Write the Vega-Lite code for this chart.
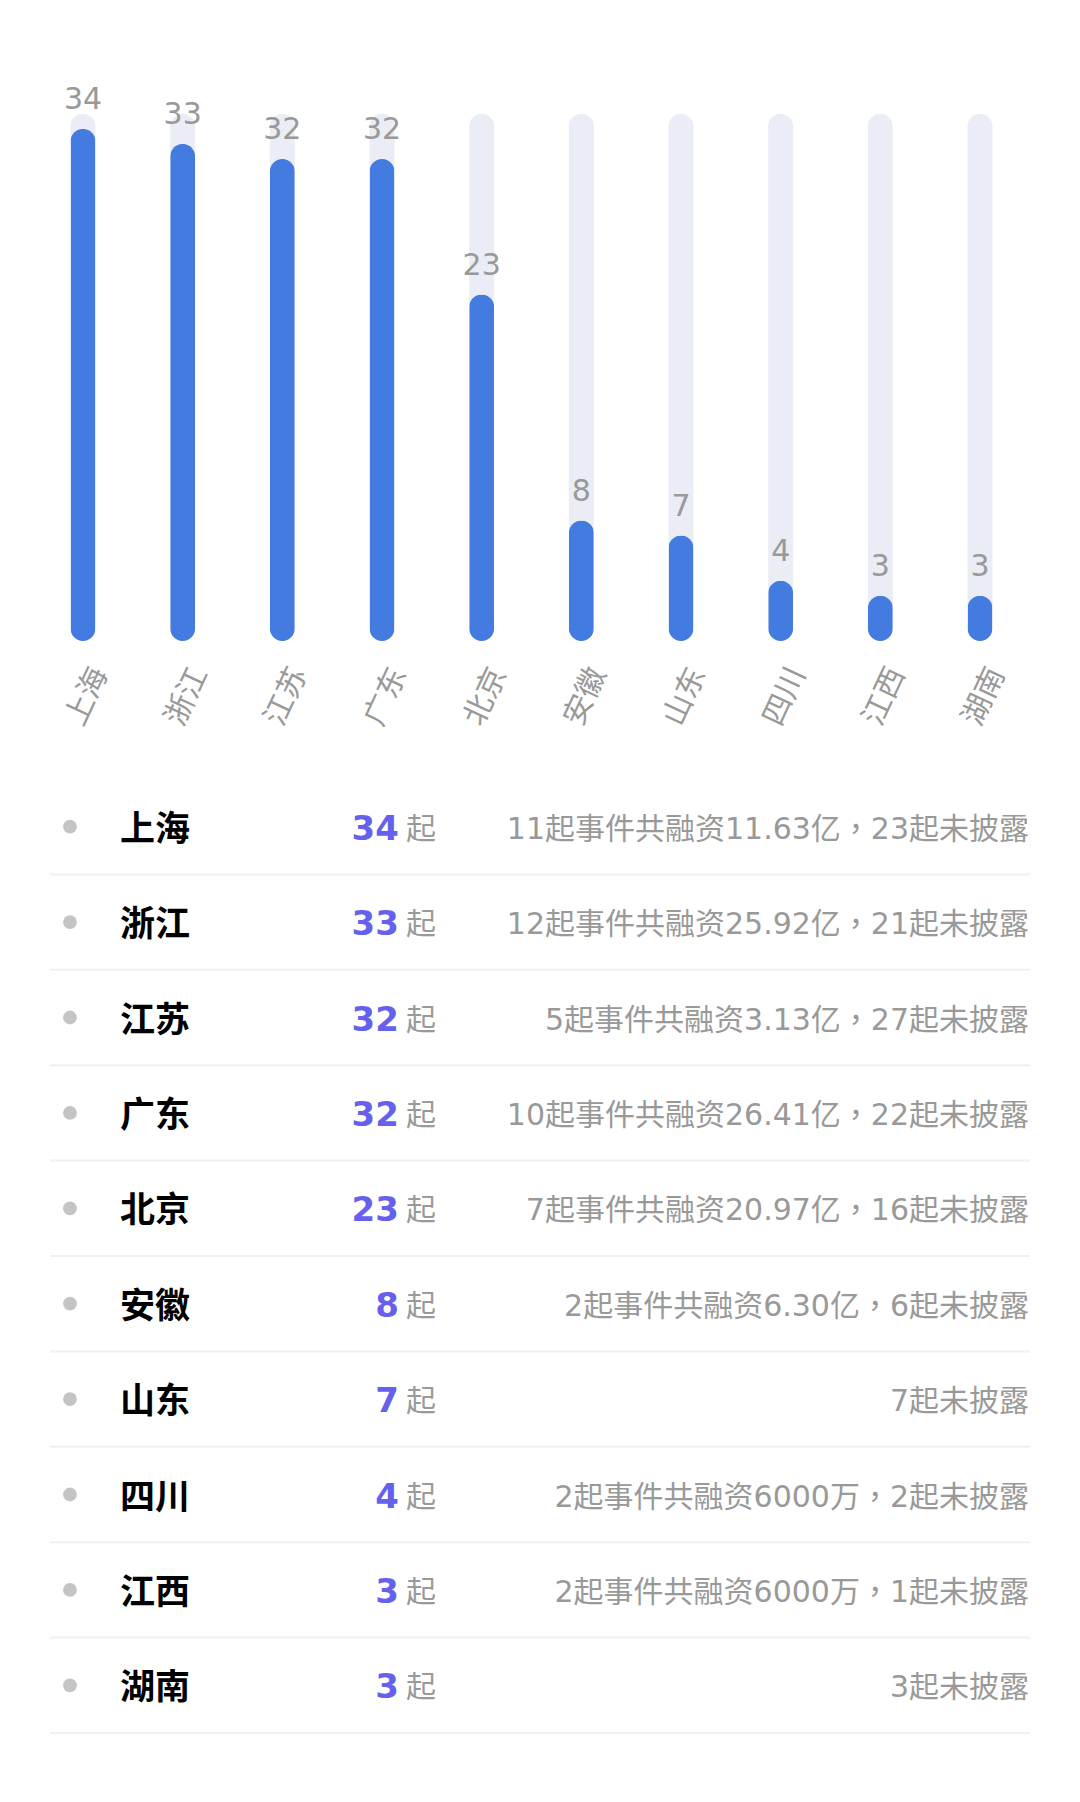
{
  "$schema": "https://vega.github.io/schema/vega-lite/v6.json",
  "padding": 0,
  "background": "#ffffff",
  "spacing": 138,
  "bounds": "flush",
  "config": {
    "view": {"stroke": null},
    "font": "DejaVu Sans, Noto Sans CJK SC, sans-serif"
  },
  "datasets": {
    "prov": [
      {"province": "上海", "count": 34, "desc": "11起事件共融资11.63亿，23起未披露"},
      {"province": "浙江", "count": 33, "desc": "12起事件共融资25.92亿，21起未披露"},
      {"province": "江苏", "count": 32, "desc": "5起事件共融资3.13亿，27起未披露"},
      {"province": "广东", "count": 32, "desc": "10起事件共融资26.41亿，22起未披露"},
      {"province": "北京", "count": 23, "desc": "7起事件共融资20.97亿，16起未披露"},
      {"province": "安徽", "count": 8, "desc": "2起事件共融资6.30亿，6起未披露"},
      {"province": "山东", "count": 7, "desc": "7起未披露"},
      {"province": "四川", "count": 4, "desc": "2起事件共融资6000万，2起未披露"},
      {"province": "江西", "count": 3, "desc": "2起事件共融资6000万，1起未披露"},
      {"province": "湖南", "count": 3, "desc": "3起未披露"}
    ]
  },
  "vconcat": [
    {
      "width": 1063,
      "height": 641,
      "data": {"name": "prov"},
      "encoding": {
        "x": {
          "field": "province",
          "type": "nominal",
          "sort": null,
          "scale": {"paddingInner": 0.75, "paddingOuter": 0.7076},
          "axis": {
            "title": null,
            "domain": false,
            "ticks": false,
            "labelAngle": -65,
            "labelFontSize": 30,
            "labelColor": "#999999",
            "labelPadding": 28,
            "labelOffset": 17
          }
        }
      },
      "layer": [
        {
          "mark": {"type": "bar", "cornerRadius": 12.5, "color": "#eaedf5"},
          "encoding": {
            "y": {"datum": 35, "type": "quantitative", "scale": {"domain": [0, 42.56], "nice": false}, "axis": null}
          }
        },
        {
          "mark": {"type": "bar", "cornerRadius": 12.5, "color": "#437be1"},
          "encoding": {
            "y": {"field": "count", "type": "quantitative"}
          }
        },
        {
          "mark": {"type": "text", "fontSize": 30, "color": "#999999", "baseline": "alphabetic", "dy": -20},
          "encoding": {
            "y": {"field": "count", "type": "quantitative"},
            "text": {"field": "count", "type": "quantitative"}
          }
        }
      ]
    },
    {
      "width": 1080,
      "height": 954,
      "data": {"name": "prov"},
      "encoding": {
        "y": {
          "field": "province",
          "type": "nominal",
          "sort": null,
          "scale": {"paddingInner": 0, "paddingOuter": 0},
          "axis": null
        }
      },
      "layer": [
        {
          "mark": {"type": "rule", "color": "#f0f0f0", "strokeWidth": 2},
          "encoding": {
            "y": {"field": "province", "type": "nominal", "sort": null, "bandPosition": 1},
            "x": {"datum": 4.63, "type": "quantitative", "scale": {"domain": [0, 100], "nice": false, "zero": false}, "axis": null},
            "x2": {"datum": 95.37}
          }
        },
        {
          "mark": {"type": "point", "filled": true, "color": "#c4c4c4", "size": 190, "opacity": 1, "dy": 2},
          "encoding": {
            "x": {"datum": 6.48, "type": "quantitative"}
          }
        },
        {
          "mark": {"type": "text", "align": "left", "baseline": "middle", "fontSize": 35, "fontWeight": "bold", "color": "#000000", "dy": 3},
          "encoding": {
            "x": {"datum": 11.1, "type": "quantitative"},
            "text": {"field": "province", "type": "nominal"}
          }
        },
        {
          "mark": {"type": "text", "align": "right", "baseline": "middle", "fontSize": 34, "fontWeight": "bold", "color": "#6561ec", "dy": 3},
          "encoding": {
            "x": {"datum": 36.94, "type": "quantitative"},
            "text": {"field": "count", "type": "quantitative"}
          }
        },
        {
          "mark": {"type": "text", "align": "left", "baseline": "middle", "fontSize": 30, "color": "#999999", "dy": 3},
          "encoding": {
            "x": {"datum": 37.6, "type": "quantitative"},
            "text": {"value": "起"}
          }
        },
        {
          "mark": {"type": "text", "align": "right", "baseline": "middle", "fontSize": 30, "color": "#999999", "dy": 3, "font": "DejaVu Sans, 'Noto Sans CJK TC', sans-serif"},
          "encoding": {
            "x": {"datum": 95.28, "type": "quantitative"},
            "text": {"field": "desc", "type": "nominal"}
          }
        }
      ]
    }
  ]
}
